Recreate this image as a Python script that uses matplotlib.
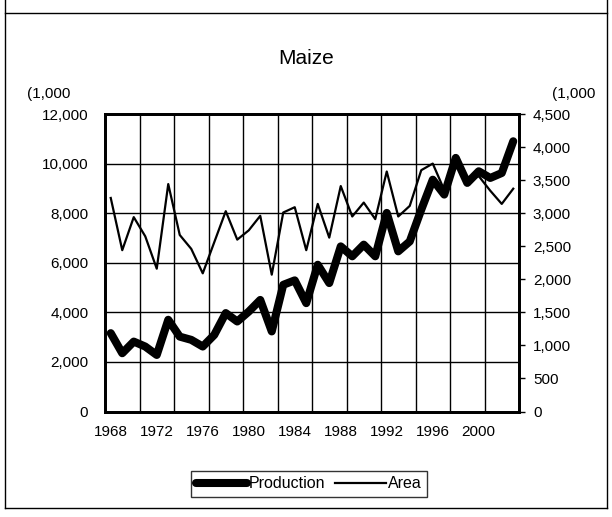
import matplotlib
matplotlib.use("Agg")
import matplotlib.pyplot as plt
from matplotlib.lines import Line2D
from matplotlib.ticker import FuncFormatter

plt.rcParams['font.family'] = ['Liberation Sans', 'DejaVu Sans']

# data
years = list(range(1968, 2004))
production = [3160, 2350, 2820, 2620, 2280, 3700, 3020, 2890, 2620, 3090,
              3970, 3630, 4030, 4500, 3230, 5110, 5290, 4370, 5920, 5180,
              6660, 6260, 6730, 6260, 8010, 6460, 6860, 8140, 9350, 8750,
              10230, 9220, 9690, 9420, 9620, 10900]
area = [3230, 2440, 2940, 2650, 2160, 3440, 2670, 2460, 2090, 2560,
        3030, 2600, 2740, 2960, 2070, 3010, 3090, 2440, 3140, 2630,
        3410, 2950, 3160, 2910, 3630, 2950, 3110, 3650, 3750, 3350,
        3800, 3480, 3560, 3340, 3140, 3370]
label_years = list(range(1968, 2001, 4))

fig = plt.figure(figsize=(6.12, 5.17), dpi=100)

# chart border lines
bot = 1 - 508/517
top = 1 - 13/517
for xs, ys in [([5/612, 5/612], [bot, 1]), ([607/612, 607/612], [bot, 1]),
               ([5/612, 607/612], [top, top]),
               ([5/612, 607/612], [bot, bot])]:
    fig.add_artist(Line2D(xs, ys, transform=fig.transFigure, color='black', lw=1))

ax = fig.add_axes([105/612, 1 - 411.5/517, 414/612, 297.5/517])
ax2 = ax.twinx()
ax.set_zorder(ax2.get_zorder() + 1)
ax.patch.set_visible(False)
ax2.set_facecolor('#c0c0c0')

ax2.plot(years, area, color='black', lw=1.6, label='Area')
ax.plot(years, production, color='black', lw=5.8, solid_capstyle='round',
        solid_joinstyle='round', label='Production')

ax.set_xlim(1967.5, 2003.5)
ax.set_ylim(0, 12000)
ax2.set_ylim(0, 4500)

ax.set_xticks(label_years)
ax.set_xticks([1967.5 + 3 * k for k in range(1, 12)], minor=True)
ax.set_yticks(range(0, 12001, 2000))
ax2.set_yticks(range(0, 4501, 500))

fmt = FuncFormatter(lambda v, p: f"{int(v):,}")
ax.yaxis.set_major_formatter(fmt)
ax2.yaxis.set_major_formatter(fmt)

ax.grid(axis='y', which='major', color='black', lw=1)
ax.grid(axis='x', which='minor', color='black', lw=1)
ax.set_axisbelow(True)

ax.tick_params(axis='x', which='both', length=0, pad=10, labelsize=11)
ax.tick_params(axis='y', length=0, pad=12, labelsize=11)
ax2.tick_params(axis='y', length=4, width=1, pad=6, labelsize=11)

for a in (ax, ax2):
    for s in a.spines.values():
        s.set_linewidth(2)

fig.text(306/612, 1 - 58/517, "Maize", ha='center', va='center', fontsize=15)
fig.text(27/612, 1 - 94/517, "(1,000", ha='left', va='center', fontsize=11)
fig.text(552/612, 1 - 94/517, "(1,000", ha='left', va='center', fontsize=11)

handles = [Line2D([], [], color='black', lw=5.8, solid_capstyle='round'),
           Line2D([], [], color='black', lw=1.6)]
leg = fig.legend(handles, ['Production', 'Area'], loc='center',
                 bbox_to_anchor=(309/612, 1 - 484/517), ncol=2, fontsize=11.5,
                 frameon=True, fancybox=False, edgecolor='black',
                 handlelength=3.2, handletextpad=0.1, columnspacing=0.6,
                 borderpad=0.35, borderaxespad=0)
leg.get_frame().set_linewidth(1)

fig.savefig("out.png", dpi=100)
